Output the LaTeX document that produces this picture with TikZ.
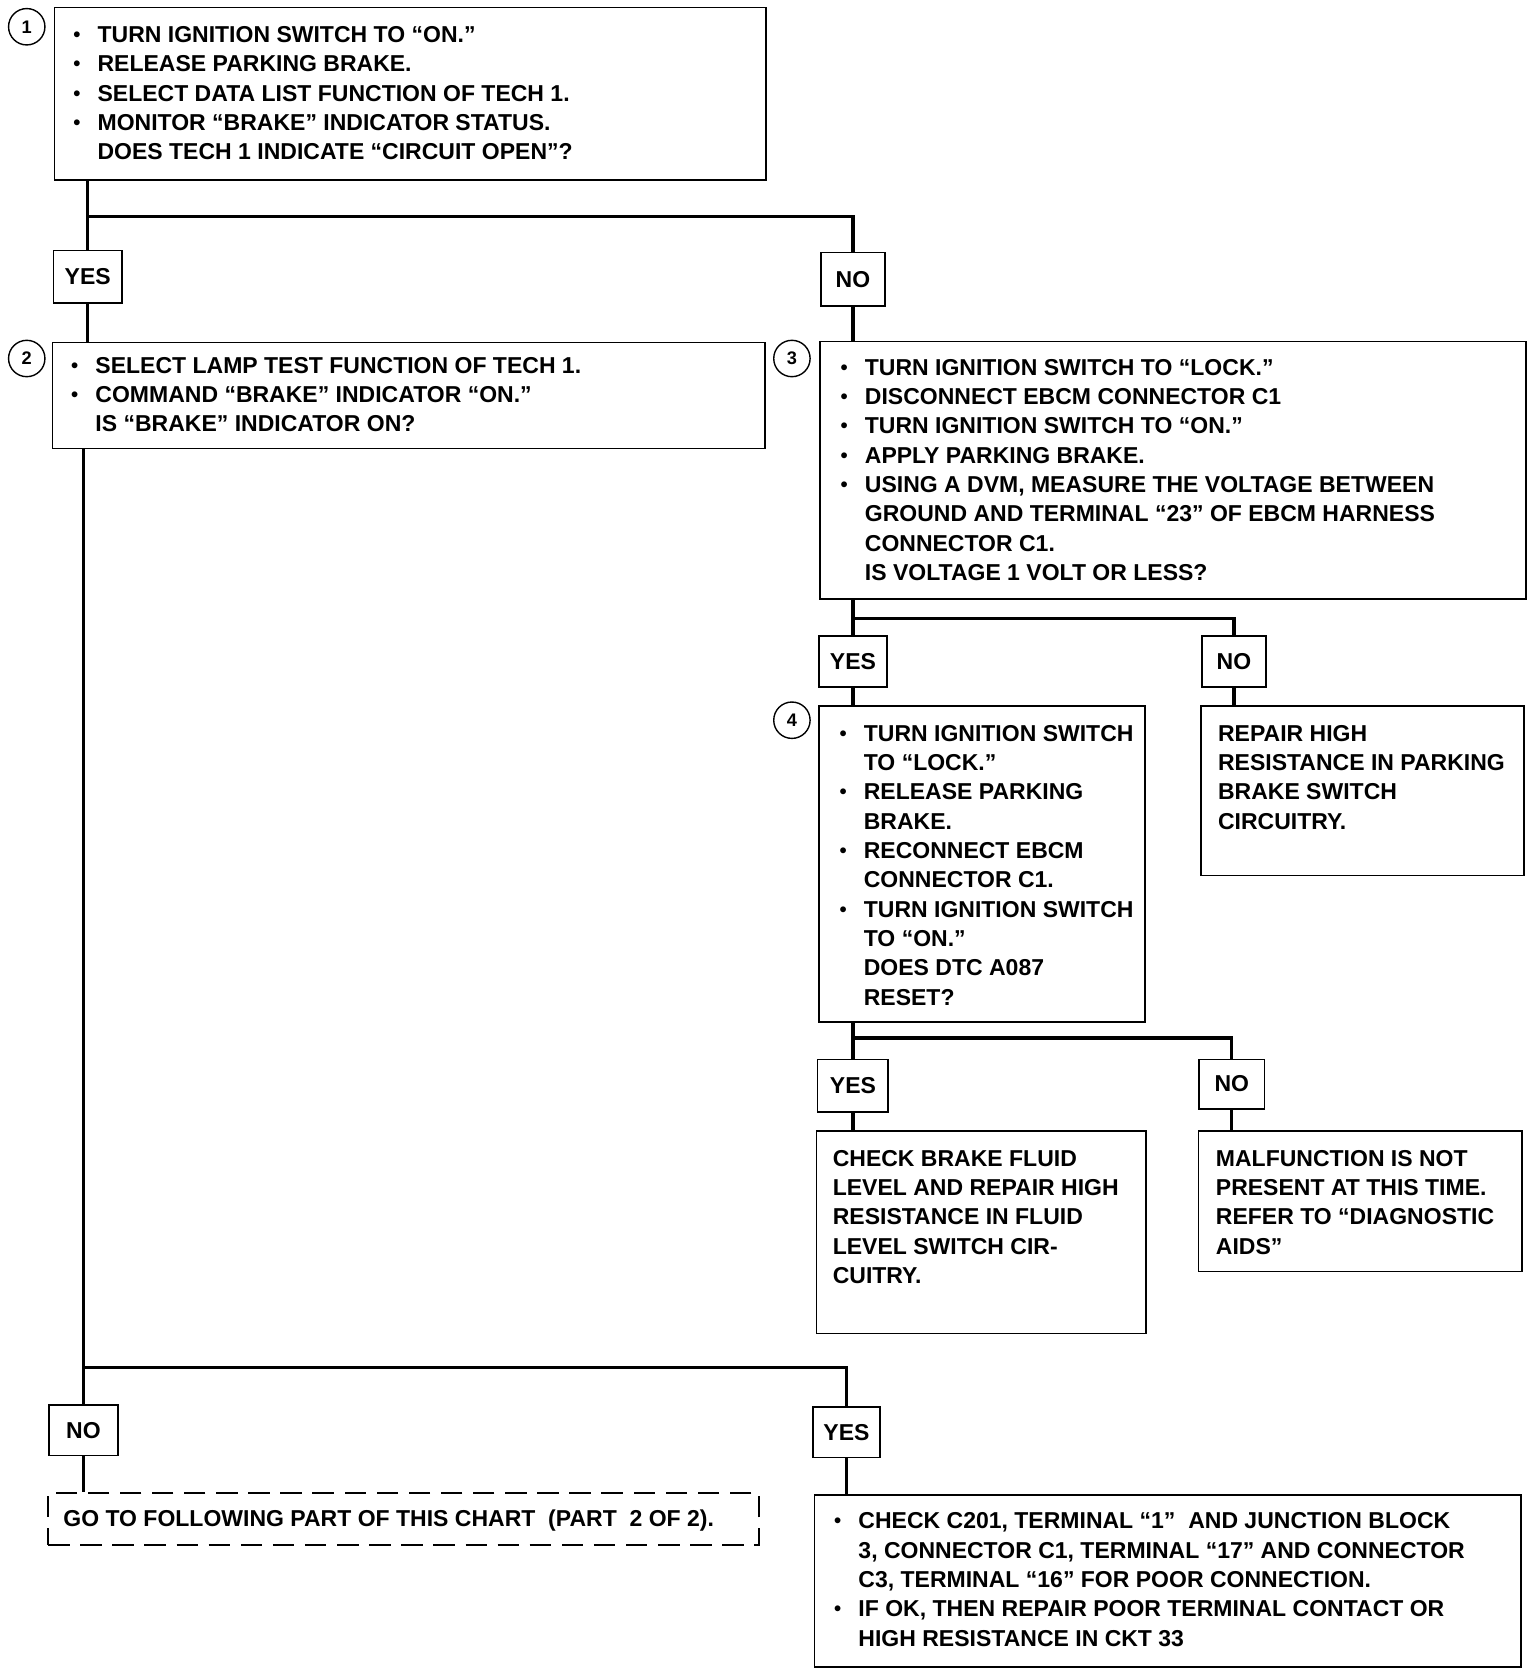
\documentclass[tikz,border=0pt]{standalone}
\usepackage{fontspec}
\setmainfont{Liberation Sans}
\newcommand\bodyfont{\fontsize{21.5}{27.4}\selectfont\bfseries}
\newcommand\bul{\makebox[0pt][r]{\raisebox{1pt}{\fontsize{19}{19}\selectfont\textbullet}\hspace{16pt}}}
\begin{document}
\begin{tikzpicture}[x=1pt,y=-1pt,
  box/.style={draw,line width=1.6pt,rectangle,inner sep=0pt},
  dbox/.style={draw,line width=1.6pt,rectangle,inner sep=0pt,dash pattern=on 20pt off 10pt},
  lab/.style={draw,line width=1.6pt,rectangle,inner sep=0pt,font=\bodyfont},
  txt/.style={anchor=north west,inner sep=0pt,align=left,font=\bodyfont},
  num/.style={draw,circle,line width=1.3pt,minimum size=34pt,inner sep=0pt,font=\fontsize{17}{18}\selectfont\bfseries},
  conn/.style={line width=3pt}]
\useasboundingbox (0,0) rectangle (1435,1568);
% circles
\node[num] (c1) at (25,25) {1};
\node[num] (c2) at (25,335) {2};
\node[num] (c3) at (740,335) {3};
\node[num] (c4) at (740,673) {4};
% main boxes
\node[box,minimum width=665pt,minimum height=161pt] (b1) at (383.5,87.5) {};
\node[box,minimum width=666pt,minimum height=99pt] (b2) at (382,369.5) {};
\node[box,minimum width=660pt,minimum height=241pt] (b3) at (1096,439.5) {};
\node[box,minimum width=305pt,minimum height=295pt] (b4) at (917.5,807.5) {};
\node[box,minimum width=302pt,minimum height=158pt] (rep) at (1273,739) {};
\node[box,minimum width=308pt,minimum height=189pt] (chk) at (917,1151.5) {};
\node[box,minimum width=302pt,minimum height=131pt] (mal) at (1271,1122.5) {};
\node[dbox,minimum width=664pt,minimum height=49pt] (go) at (377,1419.5) {};
\node[box,minimum width=660pt,minimum height=161pt] (fin) at (1091,1477.5) {};
% yes/no labels
\node[lab,minimum width=64pt,minimum height=49pt] (y1) at (82,258.5) {YES};
\node[lab,minimum width=60pt,minimum height=50pt] (n1) at (797,261) {NO};
\node[lab,minimum width=64pt,minimum height=48pt] (y3) at (797,618) {YES};
\node[lab,minimum width=60pt,minimum height=48pt] (n3) at (1153,618) {NO};
\node[lab,minimum width=66pt,minimum height=49pt] (y4) at (797,1014.5) {YES};
\node[lab,minimum width=61pt,minimum height=46pt] (n4) at (1151,1013) {NO};
\node[lab,minimum width=64pt,minimum height=47pt] (n5) at (78,1336.5) {NO};
\node[lab,minimum width=63pt,minimum height=47pt] (y5) at (791,1338.5) {YES};
% junctions
\coordinate (j1) at (82,202);
\coordinate (j3) at (797,578);
\coordinate (j4) at (797,970);
\coordinate (j5) at (78,1278);
% connectors
\draw[conn] (b1.south -| j1) -- (y1.north);
\draw[conn] (j1) -| (n1.north);
\draw[conn] (y1.south) -- (y1.south |- b2.north);
\draw[conn] (n1.south) -- (n1.south |- b3.north);
\draw[conn] (b3.south -| j3) -- (y3.north);
\draw[conn] (j3) -| (n3.north);
\draw[conn] (y3.south) -- (y3.south |- b4.north);
\draw[conn] (n3.south) -- (n3.south |- rep.north);
\draw[conn] (b4.south -| j4) -- (y4.north);
\draw[conn] (j4) -| (n4.north);
\draw[conn] (y4.south) -- (y4.south |- chk.north);
\draw[conn] (n4.south) -- (n4.south |- mal.north);
\draw[conn] (b2.south -| j5) -- (n5.north);
\draw[conn] (j5) -| (y5.north);
\draw[conn] (n5.south) -- (n5.south |- go.north);
\draw[conn] (y5.south) -- (y5.south |- fin.north);
% texts
\node[txt] (t1) at (91,24.5) {\bul TURN IGNITION SWITCH TO ``ON.''\\
\bul RELEASE PARKING BRAKE.\\
\bul SELECT DATA LIST FUNCTION OF TECH 1.\\
\bul MONITOR ``BRAKE'' INDICATOR STATUS.\\
DOES TECH 1 INDICATE ``CIRCUIT OPEN''?};
\node[txt] (t2) at (89,333.5) {\bul SELECT LAMP TEST FUNCTION OF TECH 1.\\
\bul COMMAND ``BRAKE'' INDICATOR ``ON.''\\
IS ``BRAKE'' INDICATOR ON?};
\node[txt] (t3) at (808,335.5) {\bul TURN IGNITION SWITCH TO ``LOCK.''\\
\bul DISCONNECT EBCM CONNECTOR C1\\
\bul TURN IGNITION SWITCH TO ``ON.''\\
\bul APPLY PARKING BRAKE.\\
\bul USING A DVM, MEASURE THE VOLTAGE BETWEEN\\
GROUND AND TERMINAL ``23'' OF EBCM HARNESS\\
CONNECTOR C1.\\
IS VOLTAGE 1 VOLT OR LESS?};
\node[txt] (t4) at (807,677.5) {\bul TURN IGNITION SWITCH\\
TO ``LOCK.''\\
\bul RELEASE PARKING\\
BRAKE.\\
\bul RECONNECT EBCM\\
CONNECTOR C1.\\
\bul TURN IGNITION SWITCH\\
TO ``ON.''\\
DOES DTC A087\\
RESET?};
\node[txt] (trep) at (1138,677.5) {REPAIR HIGH\\
RESISTANCE IN PARKING\\
BRAKE SWITCH\\
CIRCUITRY.};
\node[txt] (tchk) at (778,1074.5) {CHECK BRAKE FLUID\\
LEVEL AND REPAIR HIGH\\
RESISTANCE IN FLUID\\
LEVEL SWITCH CIR-\\
CUITRY.};
\node[txt] (tmal) at (1136,1074.5) {MALFUNCTION IS NOT\\
PRESENT AT THIS TIME.\\
REFER TO ``DIAGNOSTIC\\
AIDS''};
\node[txt] (tgo) at (59,1410.5) {GO TO FOLLOWING PART OF THIS CHART\ \ (PART\ \ 2 OF 2).};
\node[txt] (tfin) at (802,1413.5) {\bul CHECK C201, TERMINAL ``1''\ \ AND JUNCTION BLOCK\\
3, CONNECTOR C1, TERMINAL ``17'' AND CONNECTOR\\
C3, TERMINAL ``16'' FOR POOR CONNECTION.\\
\bul IF OK, THEN REPAIR POOR TERMINAL CONTACT OR\\
HIGH RESISTANCE IN CKT 33};
\end{tikzpicture}
\end{document}
